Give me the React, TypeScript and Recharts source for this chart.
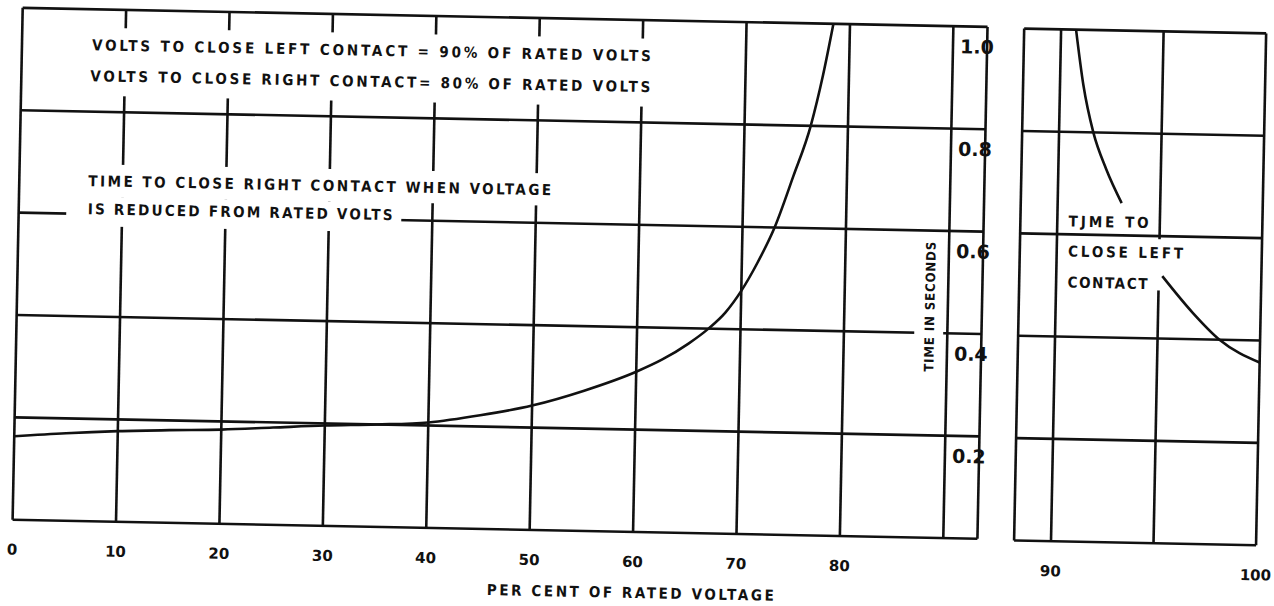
import React from 'react'
import { LineChart, Line, XAxis, YAxis, CartesianGrid, ReferenceArea } from 'recharts'

// Scanned relay timing chart: main panel 0-90 % of rated voltage, expanded
// panel 90-100 %.

const MAIN_X_TICKS = [0, 10, 20, 30, 40, 50, 60, 70, 80, 90]
const MAIN_X_LABELS = ['0', '10', '20', '30', '40', '50', '60', '70', '80', '']
const END_X_TICKS = [90, 95, 100]
const END_X_LABELS = ['90', '', '100']
const Y_TICKS = [0, 0.2, 0.4, 0.6, 0.8, 1.0]
const Y_LABELS = ['', '0.2', '0.4', '0.6', '0.8', '1.0']

// time to close right contact when voltage is reduced from rated volts
const rightPct = [0, 5, 10, 15, 20, 25, 30, 35, 40, 45, 50, 55, 60, 62.5, 65, 66.9, 68.5, 70, 71.5, 73.1, 74.8, 76.4, 77.5, 78.4]
const rightSec = [0.163, 0.171, 0.177, 0.181, 0.184, 0.19, 0.196, 0.2, 0.206, 0.222, 0.243, 0.274, 0.313, 0.338, 0.37, 0.4, 0.432, 0.475, 0.53, 0.6, 0.7, 0.8, 0.9, 1.0]

// time to close left contact (null = break where the caption sits)
const leftPct = [90.73, 91.14, 91.67, 92.33, 93.12, 94.1, 95.17, 96.68, 98.02, 100]
const leftSec = [1.0, 0.892, 0.8, 0.729, 0.663, null, 0.522, 0.452, 0.4, 0.357]

const mainData = rightPct.map((pct, i) => ({ pct, sec: rightSec[i] }))
const endData = leftPct.map((pct, i) => ({ pct, sec: leftSec[i] }))

const INK = '#111'
const CAPTION_FONT = "'DejaVu Sans Condensed', 'DejaVu Sans', sans-serif"
const DIGIT_FONT = "'DejaVu Sans', sans-serif"
const GRID_W = 2.6

// white boxes behind the captions (the scan's grid is broken there)
const MAIN_MASKS = [
  { x1: 6.1, x2: 62.2, y1: 0.831, y2: 0.964 },
  { x1: 5.6, x2: 52.5, y1: 0.634, y2: 0.697 },
  { x1: 4.6, x2: 37.0, y1: 0.576, y2: 0.634 },
  { x1: 86.8, x2: 89.6, y1: 0.32, y2: 0.58 },
]
const END_MASKS = [{ x1: 90.3, x2: 95.1, y1: 0.494, y2: 0.594 }]

const makeXTick = (ticks: number[], labels: string[]) => (props: any) => {
  const { x, y, payload } = props
  const label = labels[ticks.indexOf(payload.value)] ?? ''
  if (!label) return <g />
  return (
    <text x={x} y={y + 30} textAnchor="middle" dominantBaseline="central"
      fontFamily={DIGIT_FONT} fontWeight={700} fontSize={15} fill={INK}>{label}</text>
  )
}

const YTick = (props: any) => {
  const { x, y, payload } = props
  const label = Y_LABELS[Y_TICKS.indexOf(payload.value)] ?? ''
  if (!label) return <g />
  return (
    <text x={x - 27} y={y + 20} textAnchor="start" dominantBaseline="central"
      fontFamily={DIGIT_FONT} fontWeight={700} fontSize={19} fill={INK}>{label}</text>
  )
}

function Caption({ x, y, w, size = 15, anchor = 'start', rotate, children }: any) {
  return (
    <text x={x} y={y} textLength={w} lengthAdjust="spacing" textAnchor={anchor}
      dominantBaseline="central" fontFamily={CAPTION_FONT} fontWeight={700}
      fontSize={size} fill={INK} transform={rotate ? `rotate(${rotate} ${x} ${y})` : undefined}>
      {children}
    </text>
  )
}

const mask = (m: any, i: number) => (
  <ReferenceArea key={i} x1={m.x1} x2={m.x2} y1={m.y1} y2={m.y2}
    fill="#fff" fillOpacity={1} stroke="none" ifOverflow="visible" />
)

export default function App() {
  return (
    <div style={{ position: 'absolute', left: 0, top: 0, width: 1274, height: 606, background: '#fff', overflow: 'hidden' }}>
      <div style={{ position: 'absolute', left: 0, top: 0, width: 1274, height: 606, transform: 'rotate(1.13deg)', transformOrigin: '637px 303px' }}>
        <div style={{ position: 'absolute', left: 0, top: 0 }}>
          <LineChart width={1000} height={606} data={mainData} margin={{ top: 20, right: 8, bottom: 44, left: 17 }}>
            <CartesianGrid stroke={INK} strokeWidth={GRID_W} />
            <XAxis dataKey="pct" type="number" domain={[0, 93.3]} ticks={MAIN_X_TICKS} interval={0}
              height={30} tickSize={0} tickMargin={0} axisLine={false} tickLine={false}
              tick={makeXTick(MAIN_X_TICKS, MAIN_X_LABELS)} />
            <YAxis orientation="right" type="number" domain={[0, 1]} ticks={Y_TICKS} interval={0}
              width={10} tickSize={0} tickMargin={0} axisLine={false} tickLine={false} tick={YTick} />
            {MAIN_MASKS.map(mask)}
            <Line dataKey="sec" type="monotone" stroke={INK} strokeWidth={2.6} dot={false} isAnimationActive={false} />
          </LineChart>
        </div>
        <div style={{ position: 'absolute', left: 1000, top: 0 }}>
          <LineChart width={300} height={606} data={endData} margin={{ top: 21, right: 39.3, bottom: 43, left: 18.7 }}>
            <CartesianGrid stroke={INK} strokeWidth={GRID_W} />
            <XAxis dataKey="pct" type="number" domain={[88.2, 100]} ticks={END_X_TICKS} interval={0}
              height={30} tickSize={0} tickMargin={0} axisLine={false} tickLine={false}
              tick={makeXTick(END_X_TICKS, END_X_LABELS)} />
            <YAxis type="number" domain={[0, 1]} ticks={Y_TICKS} hide />
            {END_MASKS.map(mask)}
            <Line dataKey="sec" type="monotone" stroke={INK} strokeWidth={2.6} dot={false}
              connectNulls={false} isAnimationActive={false} />
          </LineChart>
        </div>
        <svg width={1274} height={606} style={{ position: 'absolute', left: 0, top: 0, pointerEvents: 'none' }}>
          <Caption x={87} y={56} w={559}>VOLTS TO CLOSE LEFT CONTACT = 90% OF RATED VOLTS</Caption>
          <Caption x={86} y={87} w={560}>VOLTS TO CLOSE RIGHT CONTACT= 80% OF RATED VOLTS</Caption>
          <Caption x={86} y={192} w={463}>TIME TO CLOSE RIGHT CONTACT WHEN VOLTAGE</Caption>
          <Caption x={86} y={220} w={305}>IS REDUCED FROM RATED VOLTS</Caption>
          <Caption x={1067} y={213} w={80}>TJME TO</Caption>
          <Caption x={1067} y={243} w={115}>CLOSE LEFT</Caption>
          <Caption x={1067} y={274} w={80}>CONTACT</Caption>
          <Caption x={636} y={593} w={287} anchor="middle">PER CENT OF RATED VOLTAGE</Caption>
          <Caption x={930} y={301} w={130} size={13} anchor="middle" rotate={-90}>TIME IN SECONDS</Caption>
        </svg>
      </div>
    </div>
  )
}
